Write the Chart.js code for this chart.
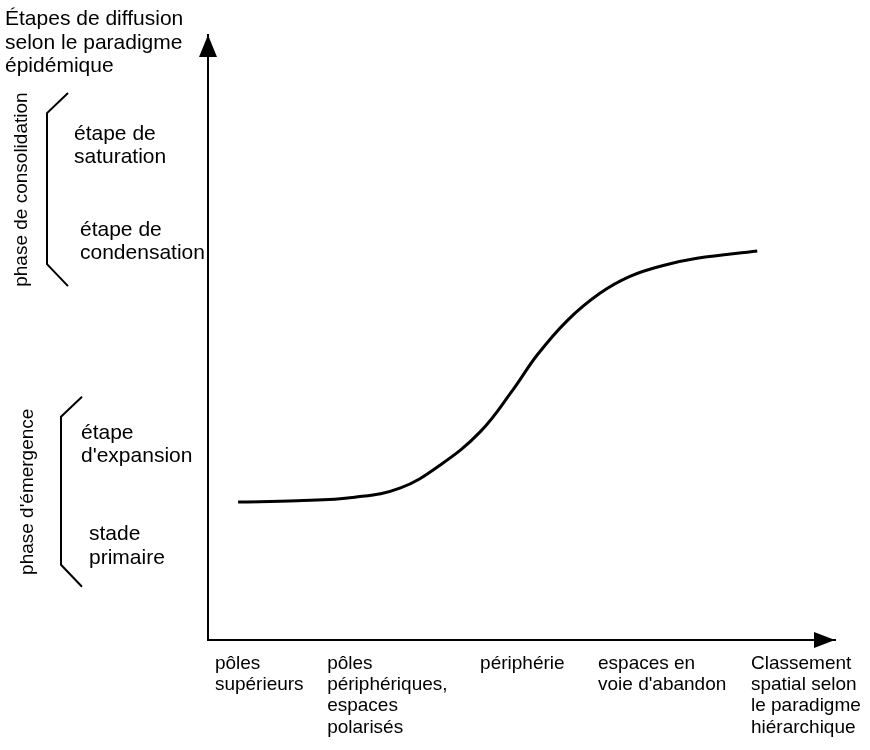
<!DOCTYPE html>
<html>
<head>
<meta charset="utf-8">
<script src="https://cdn.jsdelivr.net/npm/chart.js@4/dist/chart.umd.min.js"></script>
<style>
  html, body { margin: 0; padding: 0; background: #fff; }
  #wrap { width: 870px; height: 750px; position: relative; }
</style>
</head>
<body>
<div id="wrap"><canvas id="diffusion"></canvas></div>
<script>
// S-curve (x: spatial rank, y: diffusion stage)
var curveX = [4.8, 14.2, 23.4, 30.6, 37.0, 43.4, 48.6, 52.5, 57.3, 62.5, 67.3, 72.6, 78.0, 87.6];
var curveY = [22.8, 23.0, 23.6, 25.1, 28.9, 34.4, 41.3, 47.1, 52.8, 57.3, 60.1, 61.9, 63.1, 64.3];

// x axis categories
var spaceLabels = [
  ["pôles", "supérieurs"],
  ["pôles", "périphériques,", "espaces", "polarisés"],
  ["périphérie"],
  ["espaces en", "voie d'abandon"],
  ["Classement", "spatial selon", "le paradigme", "hiérarchique"]
];
var spaceValues = [1.1, 19.0, 43.4, 62.2, 86.6];

// y axis stages
var yTitle = ["Étapes de diffusion", "selon le paradigme", "épidémique"];
var stageLabels = [
  ["étape de", "saturation"],
  ["étape de", "condensation"],
  ["étape", "d'expansion"],
  ["stade", "primaire"]
];
var stageValues = [81.9, 66.0, 32.5, 15.7];

// phases (brackets)
var phaseLabels = ["phase de consolidation", "phase d'émergence"];
var phaseFrom = [58.5, 8.8];
var phaseTo = [90.4, 40.2];

var FONT = "'Liberation Sans', Arial, Helvetica, sans-serif";

var curveData = curveX.map(function(x, i){ return {x: x, y: curveY[i]}; });

var schemaPlugin = {
  id: 'schema',
  afterDraw: function(chart){
    var ctx = chart.ctx;
    var area = chart.chartArea;
    var ys = chart.scales.y;
    ctx.save();
    ctx.fillStyle = '#000';
    ctx.strokeStyle = '#000';

    // arrow heads
    ctx.beginPath();
    ctx.moveTo(area.left, area.top);
    ctx.lineTo(area.left - 9, area.top + 22);
    ctx.lineTo(area.left + 9, area.top + 22);
    ctx.closePath();
    ctx.fill();
    ctx.beginPath();
    ctx.moveTo(area.right, area.bottom);
    ctx.lineTo(area.right - 21, area.bottom - 8);
    ctx.lineTo(area.right - 21, area.bottom + 8);
    ctx.closePath();
    ctx.fill();

    // y title
    ctx.font = '21px ' + FONT;
    ctx.textAlign = 'left';
    ctx.textBaseline = 'alphabetic';
    yTitle.forEach(function(t, i){ ctx.fillText(t, 5, 25 + i * 23.5); });

    // stage labels
    var stageX = [74, 80, 81, 89];
    stageLabels.forEach(function(lines, k){
      var py = ys.getPixelForValue(stageValues[k]);
      lines.forEach(function(t, i){
        ctx.fillText(t, stageX[k], py + (i - (lines.length - 1) / 2) * 23.5 + 7);
      });
    });

    // brackets and phase labels
    var bx = [47, 61];
    var lx = [22, 28];
    ctx.lineWidth = 2;
    phaseLabels.forEach(function(t, k){
      var top = ys.getPixelForValue(phaseTo[k]);
      var bot = ys.getPixelForValue(phaseFrom[k]);
      ctx.beginPath();
      ctx.moveTo(bx[k] + 21, top);
      ctx.lineTo(bx[k], top + 20);
      ctx.lineTo(bx[k], bot - 22);
      ctx.lineTo(bx[k] + 21, bot);
      ctx.stroke();
      ctx.save();
      ctx.translate(lx[k], (top + bot) / 2);
      ctx.rotate(-Math.PI / 2);
      ctx.font = '19px ' + FONT;
      ctx.textAlign = 'center';
      ctx.textBaseline = 'middle';
      ctx.fillText(t, 0, 0);
      ctx.restore();
    });
    ctx.restore();
  }
};

new Chart("diffusion", {
  type: "line",
  data: {
    datasets: [{
      data: curveData,
      borderColor: '#000',
      borderWidth: 3,
      pointRadius: 0,
      tension: 0.4,
      fill: false
    }]
  },
  options: {
    responsive: true,
    maintainAspectRatio: false,
    animation: false,
    layout: { padding: { top: 35, right: 35, left: 0, bottom: 0 } },
    plugins: {
      legend: { display: false },
      tooltip: { enabled: false }
    },
    scales: {
      x: {
        type: 'linear',
        min: 0,
        max: 100,
        grid: { display: false, drawTicks: false },
        border: { display: true, color: '#000', width: 2 },
        afterBuildTicks: function(axis){
          axis.ticks = spaceValues.map(function(v){ return {value: v}; });
        },
        afterFit: function(axis){
          axis.height = 110;
          axis.paddingLeft = 0;
          axis.paddingRight = 0;
        },
        ticks: {
          autoSkip: false,
          maxRotation: 0,
          minRotation: 0,
          align: 'start',
          padding: 13,
          color: '#000',
          font: { family: FONT, size: 19, lineHeight: 1.12 },
          callback: function(v, i){ return spaceLabels[i]; }
        }
      },
      y: {
        type: 'linear',
        min: 0,
        max: 100,
        grid: { display: false, drawTicks: false },
        border: { display: true, color: '#000', width: 2 },
        ticks: { display: false },
        afterFit: function(axis){
          axis.width = 208;
          axis.paddingTop = 0;
          axis.paddingBottom = 0;
        }
      }
    }
  },
  plugins: [schemaPlugin]
});
</script>
</body>
</html>
